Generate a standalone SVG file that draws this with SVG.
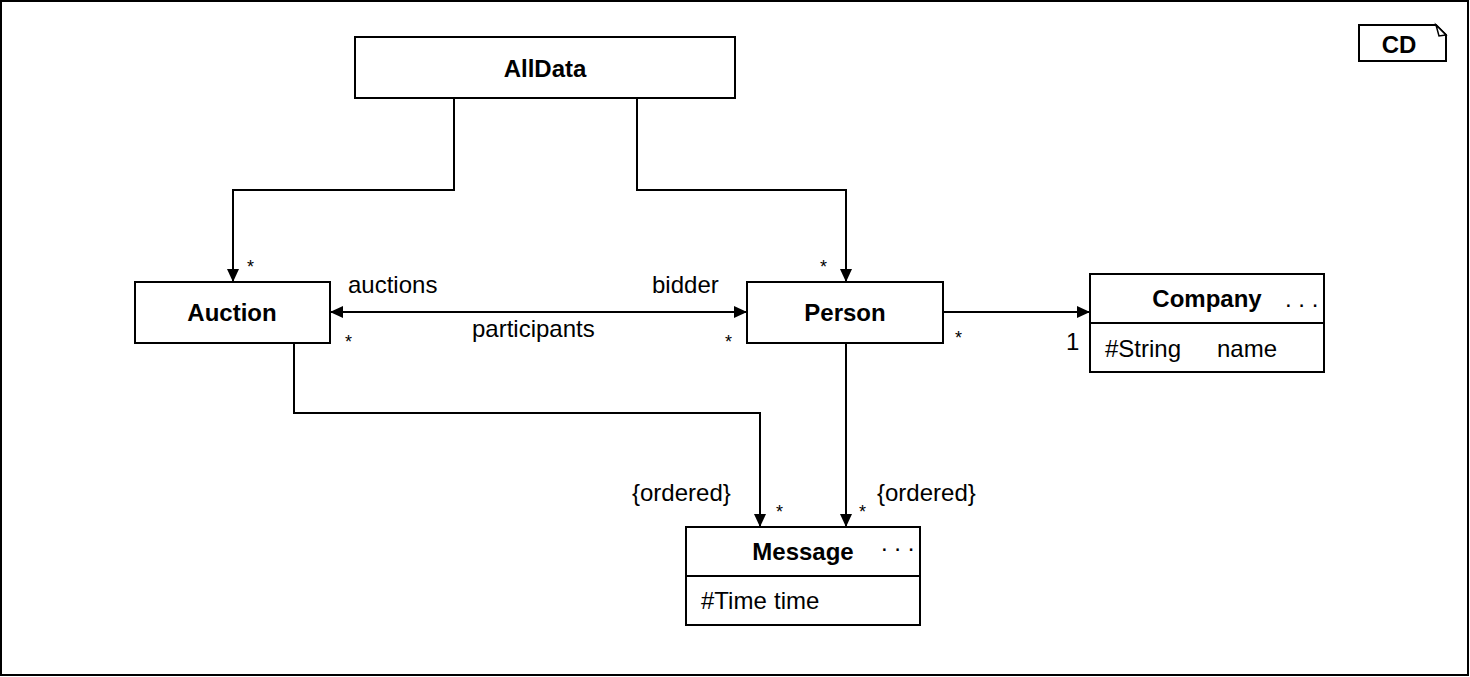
<svg xmlns="http://www.w3.org/2000/svg" width="1470" height="677" viewBox="0 0 1470 677">
<style>
.box{fill:#fff;stroke:#000;stroke-width:2}
.ln{fill:none;stroke:#000;stroke-width:2}
text{font-family:"Liberation Sans",Arial,sans-serif;fill:#000}
.t{font-size:24px;font-weight:bold;text-anchor:middle}
.l{font-size:24px}
.s{font-size:18px}
</style>
<defs>
<marker id="ah" viewBox="0 0 13 12" refX="13" refY="6" markerWidth="13" markerHeight="12" markerUnits="userSpaceOnUse" orient="auto-start-reverse">
<path d="M0,0 L13,6 L0,12 Z" fill="#000"/>
</marker>
</defs>
<rect x="1" y="1" width="1467" height="674" fill="#fff" stroke="#000" stroke-width="2"/>
<g id="tag">
<path class="box" d="M1359,25 H1436 L1446,35 V61 H1359 Z"/>
<path d="M1436,25 L1446,35 L1439,36 Z" fill="#fff" stroke="#000" stroke-width="1.5"/>
<text class="t" x="1399" y="53">CD</text>
</g>
<g id="connectors">
<path class="ln" d="M454,98 V190 H233 V282" marker-end="url(#ah)"/>
<path class="ln" d="M637,98 V190 H846 V282" marker-end="url(#ah)"/>
<path class="ln" d="M330,312 H747" marker-start="url(#ah)" marker-end="url(#ah)"/>
<path class="ln" d="M943,312 H1090" marker-end="url(#ah)"/>
<path class="ln" d="M294,343 V413 H760 V527" marker-end="url(#ah)"/>
<path class="ln" d="M846,343 V527" marker-end="url(#ah)"/>
<text class="s" x="247" y="273">*</text>
<text class="s" x="820" y="273">*</text>
<text class="l" x="348" y="293">auctions</text>
<text class="l" x="652" y="293">bidder</text>
<text class="l" x="472" y="337">participants</text>
<text class="s" x="345" y="348">*</text>
<text class="s" x="725" y="348">*</text>
<text class="s" x="955" y="344">*</text>
<text class="l" x="1066" y="350">1</text>
<text class="l" x="632" y="501">{ordered}</text>
<text class="s" x="776" y="518">*</text>
<text class="s" x="859" y="518">*</text>
<text class="l" x="877" y="501">{ordered}</text>
</g>
<g id="AllData">
<rect class="box" x="355" y="37" width="380" height="61"/>
<text class="t" x="545" y="77">AllData</text>
</g>
<g id="Auction">
<rect class="box" x="135" y="282" width="195" height="61"/>
<text class="t" x="232" y="321">Auction</text>
</g>
<g id="Person">
<rect class="box" x="747" y="282" width="196" height="61"/>
<text class="t" x="845" y="321">Person</text>
</g>
<g id="Company">
<rect class="box" x="1090" y="274" width="234" height="98"/>
<line class="ln" x1="1090" y1="323" x2="1324" y2="323"/>
<text class="t" x="1207" y="307">Company</text>
<text class="l" x="1285" y="307">. . .</text>
<text class="l" x="1105" y="357">#String</text>
<text class="l" x="1217" y="357">name</text>
</g>
<g id="Message">
<rect class="box" x="686" y="527" width="234" height="98"/>
<line class="ln" x1="686" y1="576" x2="920" y2="576"/>
<text class="t" x="803" y="560">Message</text>
<text class="l" x="881" y="551">. . .</text>
<text class="l" x="701" y="609">#Time</text>
<text class="l" x="774" y="609">time</text>
</g>
</svg>
